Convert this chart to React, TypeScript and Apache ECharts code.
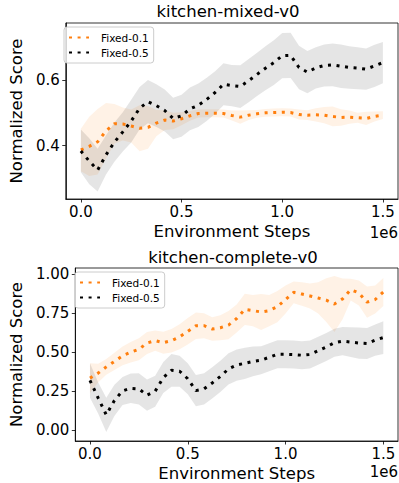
import React, { useEffect, useRef } from "react";
import * as echarts from "echarts";

// Environment steps (shared by all curves)
const steps = [
  0, 41667, 83333, 125000, 166667, 208333, 250000, 291667, 333333, 375000,
  416667, 458333, 500000, 541667, 583333, 625000, 666667, 708333, 750000,
  791667, 833333, 875000, 916667, 958333, 1000000, 1041667, 1083333, 1125000,
  1166667, 1208333, 1250000, 1291667, 1333333, 1375000, 1416667, 1458333, 1500000,
];

// kitchen-mixed-v0
const mixedFixed01 = [
  0.387, 0.398, 0.412, 0.445, 0.467, 0.466, 0.46, 0.453, 0.456, 0.469,
  0.478, 0.475, 0.482, 0.491, 0.498, 0.499, 0.499, 0.498, 0.492, 0.487,
  0.493, 0.497, 0.5, 0.501, 0.502, 0.501, 0.495, 0.493, 0.494, 0.493,
  0.489, 0.486, 0.487, 0.485, 0.483, 0.489, 0.493,
];
const mixedStd01 = [
  0.065, 0.09, 0.1, 0.085, 0.06, 0.05, 0.05, 0.07, 0.065, 0.04,
  0.03, 0.025, 0.02, 0.015, 0.012, 0.012, 0.012, 0.012, 0.015, 0.02,
  0.015, 0.012, 0.012, 0.012, 0.012, 0.012, 0.015, 0.015, 0.02, 0.025,
  0.03, 0.025, 0.02, 0.015, 0.02, 0.015, 0.012,
];
const mixedFixed05 = [
  0.384, 0.353, 0.326, 0.372, 0.411, 0.442, 0.475, 0.514, 0.534, 0.522,
  0.507, 0.483, 0.491, 0.512, 0.523, 0.541, 0.562, 0.587, 0.583, 0.58,
  0.598, 0.617, 0.636, 0.653, 0.674, 0.675, 0.638, 0.624, 0.637, 0.644,
  0.646, 0.642, 0.638, 0.636, 0.633, 0.643, 0.653,
];
const mixedStd05 = [
  0.065, 0.07, 0.065, 0.06, 0.06, 0.06, 0.065, 0.065, 0.066, 0.065,
  0.064, 0.063, 0.064, 0.065, 0.066, 0.066, 0.065, 0.064, 0.063, 0.065,
  0.066, 0.066, 0.067, 0.068, 0.069, 0.069, 0.066, 0.064, 0.063, 0.064,
  0.065, 0.066, 0.065, 0.064, 0.063, 0.064, 0.063,
];

// kitchen-complete-v0
const completeFixed01 = [
  0.332, 0.364, 0.404, 0.439, 0.475, 0.498, 0.517, 0.557, 0.572, 0.559,
  0.572, 0.597, 0.632, 0.668, 0.668, 0.647, 0.655, 0.672, 0.714, 0.773,
  0.765, 0.756, 0.765, 0.79, 0.836, 0.882, 0.871, 0.859, 0.846, 0.832,
  0.807, 0.84, 0.899, 0.878, 0.819, 0.836, 0.884,
];
const completeStd01 = [
  0.095, 0.06, 0.05, 0.055, 0.06, 0.065, 0.07, 0.07, 0.065, 0.07,
  0.075, 0.08, 0.085, 0.085, 0.08, 0.075, 0.08, 0.09, 0.09, 0.1,
  0.1, 0.115, 0.1, 0.1, 0.09, 0.07, 0.075, 0.08, 0.1, 0.14,
  0.18, 0.13, 0.07, 0.08, 0.1, 0.09, 0.09,
];
const completeFixed05 = [
  0.317, 0.206, 0.097, 0.189, 0.25, 0.267, 0.263, 0.223, 0.248, 0.336,
  0.382, 0.376, 0.328, 0.252, 0.263, 0.301, 0.343, 0.391, 0.416, 0.427,
  0.439, 0.447, 0.466, 0.485, 0.485, 0.483, 0.479, 0.483, 0.508, 0.532,
  0.559, 0.569, 0.563, 0.557, 0.554, 0.576, 0.592,
];
const completeStd05 = [
  0.11, 0.1, 0.11, 0.1, 0.09, 0.095, 0.1, 0.1, 0.1, 0.1,
  0.105, 0.1, 0.1, 0.1, 0.1, 0.1, 0.1, 0.1, 0.1, 0.1,
  0.095, 0.09, 0.09, 0.09, 0.09, 0.09, 0.09, 0.09, 0.09, 0.09,
  0.09, 0.09, 0.095, 0.1, 0.1, 0.1, 0.105,
];

const xTicks = [0, 500000, 1000000, 1500000];
const yTicksMixed = [0.4, 0.6];
const yTicksComplete = [0, 0.25, 0.5, 0.75, 1.0];
const legendNames = ["Fixed-0.1", "Fixed-0.5"];
const titles = ["kitchen-mixed-v0", "kitchen-complete-v0"];

const FONT = "DejaVu Sans";
const ORANGE = "#ff7f0e";
const BLACK = "#000000";
const DASH = [3, 5.6];

function pairs(xs: number[], ys: number[]) {
  return xs.map((x, i) => [x, ys[i]]);
}

function band(idx: number, name: string, mean: number[], std: number[], fill: string) {
  return {
    type: "custom",
    name,
    xAxisIndex: idx,
    yAxisIndex: idx,
    silent: true,
    z: 1,
    data: [[0, 0]],
    renderItem: (_p: any, api: any) => {
      const pts: number[][] = [];
      for (let i = 0; i < steps.length; i++) pts.push(api.coord([steps[i], mean[i] + std[i]]));
      for (let i = steps.length - 1; i >= 0; i--) pts.push(api.coord([steps[i], mean[i] - std[i]]));
      return { type: "polygon", shape: { points: pts }, style: { fill, stroke: null } };
    },
  };
}

function line(idx: number, name: string, mean: number[], color: string) {
  return {
    type: "line",
    name,
    xAxisIndex: idx,
    yAxisIndex: idx,
    data: pairs(steps, mean),
    symbol: "none",
    showSymbol: false,
    z: 3,
    itemStyle: { color },
    lineStyle: { color, width: 3, type: DASH, cap: "butt" },
  };
}

function xAxis(idx: number) {
  return {
    gridIndex: idx,
    type: "value",
    min: -75000,
    max: 1575000,
    axisLine: { show: true, onZero: false, lineStyle: { color: "#000", width: 0.8 } },
    axisTick: { show: true, customValues: xTicks, length: 3.5, lineStyle: { color: "#000", width: 0.8 } },
    axisLabel: {
      customValues: xTicks,
      formatter: (v: number) => (v / 1e6).toFixed(1),
      color: "#000",
      fontFamily: FONT,
      fontSize: 15,
      margin: 5,
    },
    splitLine: { show: false },
    name: "Environment Steps",
    nameLocation: "middle",
    nameGap: 24,
    nameTextStyle: { color: "#000", fontFamily: FONT, fontSize: 16.5 },
  };
}

function yAxis(idx: number, min: number, max: number, ticks: number[], digits: number, gap: number) {
  return {
    gridIndex: idx,
    type: "value",
    min,
    max,
    axisLine: { show: true, onZero: false, lineStyle: { color: "#000", width: 0.8 } },
    axisTick: { show: true, customValues: ticks, length: 3.5, lineStyle: { color: "#000", width: 0.8 } },
    axisLabel: {
      customValues: ticks,
      formatter: (v: number) => v.toFixed(digits),
      color: "#000",
      fontFamily: FONT,
      fontSize: 15,
      margin: 6,
    },
    splitLine: { show: false },
    name: "Normalized Score",
    nameLocation: "middle",
    nameRotate: 90,
    nameGap: gap,
    nameTextStyle: { color: "#000", fontFamily: FONT, fontSize: 16.5 },
  };
}

function legend(left: number, top: number) {
  return {
    data: legendNames,
    orient: "vertical",
    left,
    top,
    selectedMode: false,
    itemWidth: 20,
    itemHeight: 12,
    itemGap: 4,
    padding: [5, 5, 5, 4],
    backgroundColor: "rgba(255,255,255,0.8)",
    borderColor: "#cccccc",
    borderWidth: 1,
    borderRadius: 3,
    itemStyle: { opacity: 0 },
    textStyle: { color: "#000", fontFamily: FONT, fontSize: 10.5, padding: [0, 0, 0, 7] },
  };
}

export default function App() {
  const ref = useRef<HTMLDivElement>(null);
  useEffect(() => {
    if (!ref.current) return;
    const chart = echarts.init(ref.current, null, { renderer: "svg" });
    chart.setOption({
      animation: false,
      backgroundColor: "#ffffff",
      grid: [
        { left: 58, top: 23, width: 340, height: 176, show: true, borderColor: "#000", borderWidth: 0.8, backgroundColor: "transparent" },
        { left: 69, top: 268, width: 329, height: 176, show: true, borderColor: "#000", borderWidth: 0.8, backgroundColor: "transparent" },
      ],
      xAxis: [xAxis(0), xAxis(1)],
      yAxis: [
        yAxis(0, 0.2378, 0.7735, yTicksMixed, 1, 35),
        yAxis(1, -0.071, 1.038, yTicksComplete, 2, 45),
      ],
      legend: [legend(64, 27), legend(75, 272)],
      graphic: [
        { type: "text", x: 228, y: 11, style: { text: titles[0], fill: "#000", font: `16.5px "${FONT}"`, textAlign: "center", textVerticalAlign: "middle" } },
        { type: "text", x: 233, y: 257, style: { text: titles[1], fill: "#000", font: `16.5px "${FONT}"`, textAlign: "center", textVerticalAlign: "middle" } },
        { type: "text", x: 398, y: 233, style: { text: "1e6", fill: "#000", font: `15px "${FONT}"`, textAlign: "right", textVerticalAlign: "middle" } },
        { type: "text", x: 398, y: 472, style: { text: "1e6", fill: "#000", font: `15px "${FONT}"`, textAlign: "right", textVerticalAlign: "middle" } },
      ],
      series: [
        band(0, "band-mixed-01", mixedFixed01, mixedStd01, "rgba(255,127,14,0.1)"),
        line(0, "Fixed-0.1", mixedFixed01, ORANGE),
        band(0, "band-mixed-05", mixedFixed05, mixedStd05, "rgba(0,0,0,0.1)"),
        line(0, "Fixed-0.5", mixedFixed05, BLACK),
        band(1, "band-complete-01", completeFixed01, completeStd01, "rgba(255,127,14,0.1)"),
        line(1, "Fixed-0.1", completeFixed01, ORANGE),
        band(1, "band-complete-05", completeFixed05, completeStd05, "rgba(0,0,0,0.1)"),
        line(1, "Fixed-0.5", completeFixed05, BLACK),
      ],
    });
    return () => chart.dispose();
  }, []);
  return <div ref={ref} style={{ position: "fixed", left: 0, top: 0, width: 399, height: 483 }} />;
}
